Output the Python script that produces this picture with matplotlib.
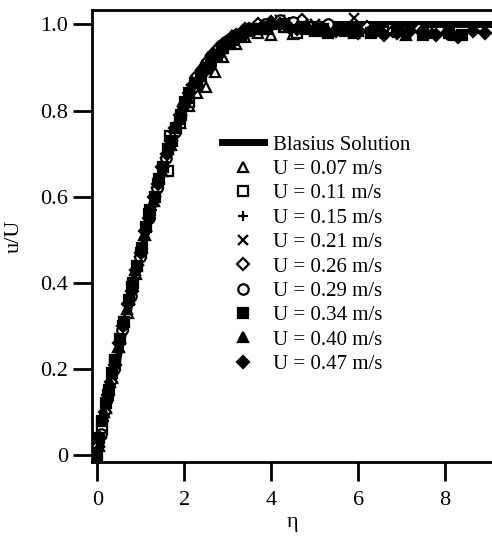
import numpy as np
import matplotlib
matplotlib.use('Agg')
import matplotlib.pyplot as plt

plt.rcParams['font.family'] = ['Liberation Serif', 'DejaVu Serif']

# Blasius profile (eta, u/U)
blasius_eta = [0.0, 0.2, 0.4, 0.6, 0.8, 1.0, 1.2, 1.4, 1.6, 1.8, 2.0, 2.2, 2.4, 2.6, 2.8,
               3.0, 3.2, 3.4, 3.6, 3.8, 4.0, 4.4, 5.0, 6.0, 7.0, 8.0, 9.2]
blasius_u = [0.0, 0.094, 0.188, 0.281, 0.372, 0.461, 0.545, 0.624, 0.697, 0.761, 0.817, 0.863,
             0.901, 0.931, 0.953, 0.969, 0.980, 0.988, 0.993, 0.996, 0.998, 0.999, 1.0, 1.0,
             1.0, 1.0, 1.0]

labels = ['U = 0.07 m/s', 'U = 0.11 m/s', 'U = 0.15 m/s', 'U = 0.21 m/s', 'U = 0.26 m/s',
          'U = 0.29 m/s', 'U = 0.34 m/s', 'U = 0.40 m/s', 'U = 0.47 m/s']

eta_007 = [0.05, 0.2, 0.35, 0.5, 0.7, 0.9, 1.1, 1.3, 1.5, 1.7, 1.9, 2.1, 2.3, 2.5, 2.7,
           2.9, 3.0, 3.2, 3.4, 3.7, 4.0, 4.5, 5.0, 5.5, 6.0, 6.5]
u_007 = [0.03, 0.11, 0.18, 0.25, 0.33, 0.42, 0.51, 0.59, 0.66, 0.72, 0.77, 0.81, 0.84, 0.855,
         0.89, 0.925, 0.965, 0.955, 0.97, 0.98, 0.975, 0.977, 0.985, 0.99, 0.985, 0.99]

eta_011 = [0.1, 0.25, 0.4, 0.6, 0.8, 1.0, 1.2, 1.4, 1.63, 1.68, 1.9, 2.1, 2.3, 2.6, 2.9,
           3.2, 3.5, 3.9, 4.3, 4.6, 5.0, 5.3, 5.8, 6.3, 6.8]
u_011 = [0.06, 0.14, 0.21, 0.30, 0.39, 0.47, 0.56, 0.63, 0.66, 0.74, 0.77, 0.82, 0.86, 0.91,
         0.945, 0.97, 0.985, 0.99, 0.995, 0.98, 0.99, 0.98, 0.99, 0.985, 0.99]

eta_015 = [0.0, 0.15, 0.3, 0.45, 0.65, 0.85, 1.05, 1.25, 1.45, 1.65, 1.85, 2.05, 2.25, 2.5,
           2.75, 3.0, 3.3, 3.6, 4.0, 4.4, 4.8, 5.3, 5.8, 6.4, 7.0]
u_015 = [0.01, 0.08, 0.16, 0.23, 0.32, 0.41, 0.49, 0.57, 0.64, 0.71, 0.77, 0.82, 0.86, 0.90,
         0.935, 0.96, 0.98, 0.99, 1.0, 1.005, 0.995, 0.99, 0.985, 0.99, 0.985]

eta_021 = [0.05, 0.2, 0.35, 0.55, 0.75, 0.95, 1.15, 1.35, 1.55, 1.75, 1.95, 2.15, 2.4, 2.65,
           2.9, 3.2, 3.5, 3.8, 4.2, 4.6, 5.0, 5.4, 5.9, 6.5, 7.1]
u_021 = [0.04, 0.12, 0.19, 0.27, 0.36, 0.45, 0.53, 0.61, 0.68, 0.74, 0.80, 0.85, 0.89, 0.925,
         0.95, 0.975, 0.99, 1.0, 1.01, 1.005, 1.0, 0.995, 1.015, 0.99, 0.985]

eta_026 = [0.02, 0.18, 0.32, 0.5, 0.7, 0.9, 1.1, 1.3, 1.5, 1.7, 1.9, 2.1, 2.3, 2.55, 2.8,
           3.1, 3.4, 3.7, 4.0, 4.3, 4.7, 5.1, 5.6, 6.2, 6.8, 7.4]
u_026 = [0.02, 0.10, 0.17, 0.26, 0.35, 0.43, 0.52, 0.60, 0.67, 0.73, 0.79, 0.84, 0.88, 0.915,
         0.945, 0.97, 0.99, 1.0, 1.005, 1.0, 1.01, 0.995, 0.99, 0.995, 0.985, 0.99]

eta_029 = [0.08, 0.22, 0.38, 0.58, 0.78, 0.98, 1.18, 1.38, 1.58, 1.78, 1.98, 2.2, 2.45, 2.7,
           2.95, 3.25, 3.55, 3.85, 4.2, 4.5, 4.9, 5.3, 5.8, 6.3, 6.9, 7.5]
u_029 = [0.05, 0.13, 0.20, 0.29, 0.37, 0.46, 0.55, 0.62, 0.69, 0.75, 0.81, 0.855, 0.895, 0.93,
         0.955, 0.975, 0.99, 1.0, 1.01, 1.005, 0.995, 1.0, 0.99, 0.985, 0.99, 0.985]

eta_034 = [0.0, 0.05, 0.12, 0.2, 0.27, 0.35, 0.42, 0.52, 0.62, 0.72, 0.82, 0.92, 1.02, 1.12,
           1.22, 1.32, 1.42, 1.52, 1.62, 1.72, 1.82, 1.92, 2.02, 2.12, 2.25, 2.38, 2.5, 2.62,
           2.75, 2.88, 3.0, 3.15, 3.3, 3.45, 3.6, 3.75, 3.9, 4.3, 4.7, 5.2, 5.7, 6.3, 6.9, 7.5,
           8.1, 8.4]
u_034 = [0.0, 0.04, 0.08, 0.12, 0.15, 0.19, 0.22, 0.27, 0.31, 0.36, 0.40, 0.44, 0.48, 0.53,
         0.57, 0.60, 0.64, 0.67, 0.71, 0.73, 0.76, 0.79, 0.82, 0.84, 0.865, 0.88, 0.90, 0.915,
         0.93, 0.945, 0.955, 0.965, 0.975, 0.985, 0.99, 0.99, 0.995, 1.0, 0.995, 0.99, 0.985,
         0.98, 0.985, 0.975, 0.98, 0.975]

eta_040 = [0.03, 0.16, 0.3, 0.48, 0.68, 0.88, 1.08, 1.28, 1.48, 1.68, 1.88, 2.08, 2.3, 2.55,
           2.8, 3.05, 3.35, 3.65, 4.0, 4.4, 4.8, 5.3, 5.9, 6.5, 7.1, 7.7, 8.2]
u_040 = [0.02, 0.10, 0.17, 0.25, 0.34, 0.43, 0.51, 0.59, 0.66, 0.72, 0.78, 0.83, 0.87, 0.905,
         0.935, 0.96, 0.98, 0.99, 1.0, 0.995, 0.99, 0.985, 0.98, 0.985, 0.975, 0.98, 0.975]

eta_047 = [0.06, 0.24, 0.4, 0.6, 0.8, 1.0, 1.2, 1.4, 1.6, 1.8, 2.0, 2.2, 2.4, 2.65, 2.9,
           3.2, 3.5, 3.8, 4.0, 4.2, 4.4, 4.6, 4.8, 5.0, 5.2, 5.5, 5.8, 6.0, 6.3, 6.6, 6.9,
           7.2, 7.5, 7.8, 8.05, 8.3, 8.64, 8.92]
u_047 = [0.04, 0.14, 0.21, 0.30, 0.38, 0.47, 0.55, 0.63, 0.70, 0.76, 0.81, 0.86, 0.895, 0.93,
         0.955, 0.975, 0.99, 0.995, 1.0, 1.0, 0.995, 0.99, 0.995, 0.99, 0.985, 0.985, 0.99,
         0.98, 0.985, 0.975, 0.98, 0.985, 0.98, 0.975, 0.98, 0.97, 0.984, 0.98]

series = [
    (eta_007, u_007, dict(marker='^', mfc='white')),
    (eta_011, u_011, dict(marker='s', mfc='white')),
    (eta_015, u_015, dict(marker='+', mfc='black')),
    (eta_021, u_021, dict(marker='x', mfc='black')),
    (eta_026, u_026, dict(marker='D', mfc='white', ms=6)),
    (eta_029, u_029, dict(marker='o', mfc='white')),
    (eta_034, u_034, dict(marker='s', mfc='black')),
    (eta_040, u_040, dict(marker='^', mfc='black')),
    (eta_047, u_047, dict(marker='D', mfc='black', ms=6.5)),
]

fig = plt.figure(figsize=(4.92, 5.39), dpi=100)
ax = fig.add_axes([0.187, 0.143, 0.813, 0.838])

ax.plot(blasius_eta, blasius_u, color='black', lw=5, label='Blasius Solution', zorder=3)
for (e, u, style), lab in zip(series, labels):
    st = dict(ms=7.5, mec='black', mew=1.6, ls='none')
    st.update(style)
    ax.plot(e, u, label=lab, zorder=4, **st)

ax.set_xlim(-0.12, 9.08)
ax.set_ylim(-0.016, 1.033)
ax.set_xticks([0, 2, 4, 6, 8])
ax.set_yticks([0, 0.2, 0.4, 0.6, 0.8, 1.0])
ax.set_yticklabels(['0', '0.2', '0.4', '0.6', '0.8', '1.0'])
ax.tick_params(direction='out', length=14, width=2, labelsize=16)
ax.tick_params(axis='x', pad=7)
ax.tick_params(axis='y', pad=3)
for s in ['left', 'bottom', 'top']:
    ax.spines[s].set_linewidth(2)
ax.spines['right'].set_visible(False)

ax.set_xlabel('η', fontsize=16, labelpad=2)
ax.set_ylabel('u/U', fontsize=16, labelpad=12)

leg = ax.legend(loc='upper left', bbox_to_anchor=(0.305, 0.742), frameon=False,
                fontsize=15, handlelength=2.0, handletextpad=0.45, labelspacing=0.23,
                borderaxespad=0)

plt.savefig('out.png', dpi=100)
